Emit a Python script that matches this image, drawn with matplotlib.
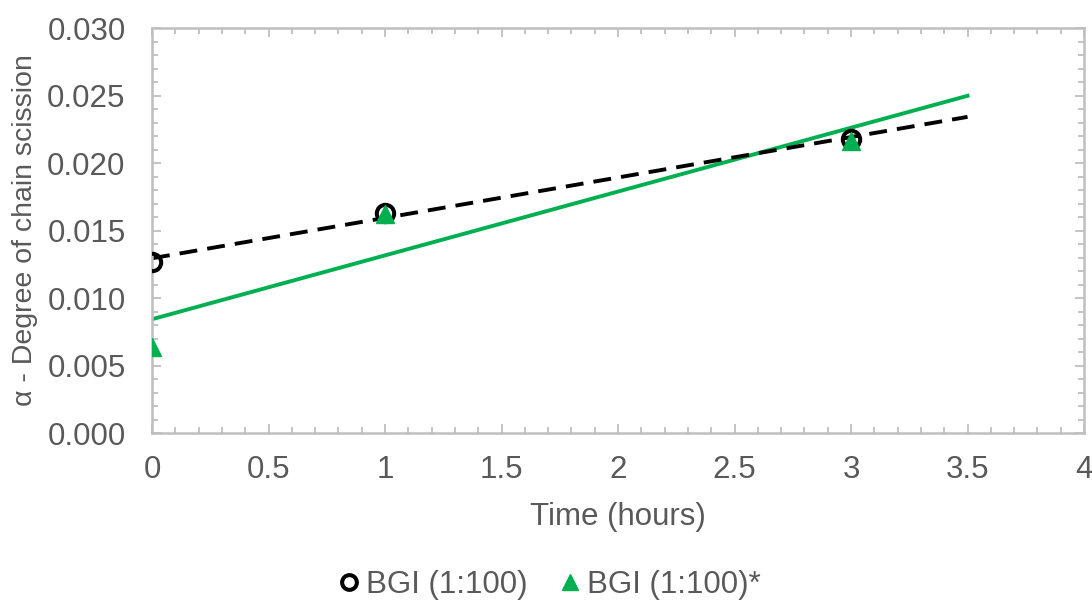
import numpy as np
import matplotlib.pyplot as plt
from matplotlib.ticker import MultipleLocator, FormatStrFormatter

plt.rcParams['font.family'] = ['Liberation Sans', 'DejaVu Sans']

# data
hours = [0, 1, 3]
bgi = [0.0127, 0.0163, 0.0218]
bgi_star = [0.0064, 0.0162, 0.0216]
trend_x = np.array([0, 3.5])

grey = '#595959'
axgrey = '#bfbfbf'
green = '#00b050'

fig = plt.figure(figsize=(10.92, 6.04), dpi=100)
ax = fig.add_axes([0.1392, 0.2831, 0.8535, 0.6705])

# linear trendlines (forecast forward to 3.5 h)
p1 = np.polyfit(hours, bgi, 1)
p2 = np.polyfit(hours, bgi_star, 1)
ax.plot(trend_x, np.polyval(p2, trend_x), color=green, lw=2.8, zorder=2)
ax.plot(trend_x, np.polyval(p1, trend_x), color='black', lw=2.8,
        dashes=(4.6, 2.6), zorder=2)

ax.plot(hours, bgi, ls='none', marker='o', ms=12.5, mfc='none', mec='black',
        mew=2.9, label='BGI (1:100)', zorder=3)
ax.plot(hours, bgi_star, ls='none', marker='^', ms=13.5, color=green,
        label='BGI (1:100)*', zorder=4)

ax.set_xlim(0, 4)
ax.set_ylim(0, 0.030)
ax.xaxis.set_minor_locator(MultipleLocator(0.1))
ax.yaxis.set_major_locator(MultipleLocator(0.005))
ax.yaxis.set_minor_locator(MultipleLocator(0.001))
ax.yaxis.set_major_formatter(FormatStrFormatter('%.3f'))
ax.set_xticks([0, 0.5, 1, 1.5, 2, 2.5, 3, 3.5, 4])
ax.set_xticklabels(['0', '0.5', '1', '1.5', '2', '2.5', '3', '3.5', '4'])

ax.tick_params(which='both', direction='in', top=True, right=True,
               color=axgrey, width=1.3, labelcolor=grey, labelsize=22.5)
ax.tick_params(which='major', length=6.5)
ax.tick_params(which='minor', length=4.6)
ax.tick_params(axis='x', pad=16)
ax.tick_params(axis='y', pad=19)
for s in ax.spines.values():
    s.set_color(axgrey)
    s.set_linewidth(1.8)

ax.set_xlabel('Time (hours)', fontsize=22.5, color=grey, labelpad=12)
ax.set_ylabel('α - Degree of chain scission', fontsize=20.5, color=grey, labelpad=7)

fig.legend(loc='center', bbox_to_anchor=(549 / 1092, 1 - 585 / 604), ncol=2,
           frameon=False, fontsize=22.5, labelcolor=grey, handlelength=0.7,
           handletextpad=0.2, columnspacing=1.0, markerscale=0.85)

fig.savefig('out.png', dpi=100)
